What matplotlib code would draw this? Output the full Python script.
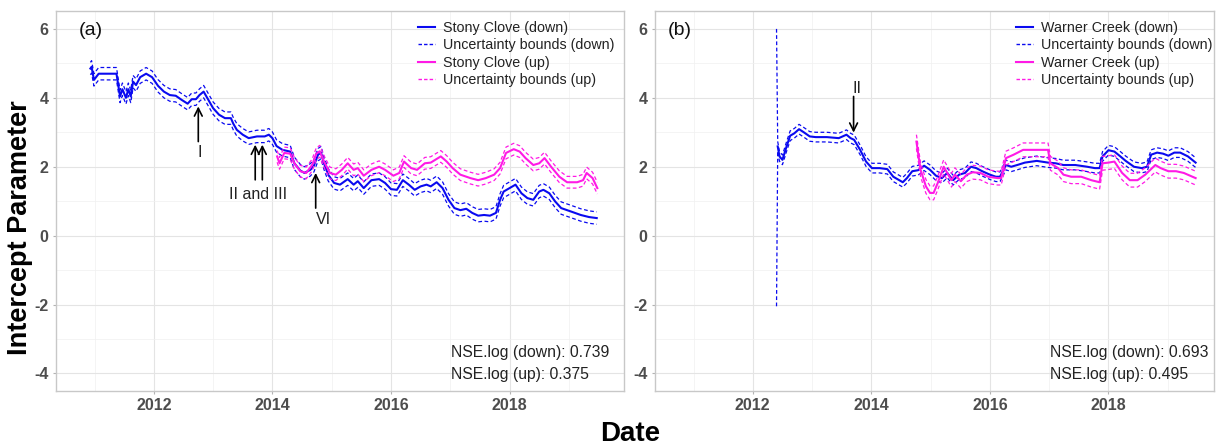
import matplotlib
matplotlib.use('Agg')
import matplotlib.pyplot as plt
from matplotlib.lines import Line2D
import numpy as np

plt.rcParams['font.family'] = ['Liberation Sans', 'DejaVu Sans']
plt.rcParams['axes.unicode_minus'] = False

# decimal years
sc_down_x = [2010.93, 2010.95, 2010.99, 2011.07, 2011.37, 2011.43, 2011.47, 2011.53, 2011.57, 2011.61,
             2011.65, 2011.7, 2011.77, 2011.87, 2011.97, 2012.07, 2012.17, 2012.27, 2012.37, 2012.47,
             2012.57, 2012.64, 2012.71, 2012.77, 2012.84, 2012.9, 2013.0, 2013.1, 2013.2, 2013.3,
             2013.34, 2013.4, 2013.5, 2013.6, 2013.74, 2013.87, 2013.94, 2014.0, 2014.07, 2014.17,
             2014.3, 2014.37, 2014.47, 2014.54, 2014.64, 2014.7, 2014.77, 2014.82, 2014.87, 2014.94,
             2015.04, 2015.14, 2015.27, 2015.37, 2015.44, 2015.54, 2015.67, 2015.8, 2015.9, 2016.0,
             2016.1, 2016.2, 2016.3, 2016.4, 2016.5, 2016.6, 2016.67, 2016.77, 2016.87, 2016.97,
             2017.07, 2017.17, 2017.27, 2017.37, 2017.47, 2017.57, 2017.67, 2017.77, 2017.84, 2017.9,
             2018.0, 2018.1, 2018.2, 2018.3, 2018.4, 2018.5, 2018.57, 2018.67, 2018.77, 2018.87,
             2018.97, 2019.07, 2019.2, 2019.34, 2019.47]
sc_down = [4.85, 4.9, 4.52, 4.7, 4.7, 4.04, 4.25, 4.0, 4.25, 4.04,
           4.47, 4.37, 4.6, 4.7, 4.6, 4.35, 4.18, 4.08, 4.06, 3.94,
           3.83, 3.96, 3.96, 4.08, 4.18, 4.0, 3.7, 3.51, 3.41, 3.41,
           3.25, 3.07, 2.93, 2.83, 2.88, 2.88, 2.93, 2.83, 2.6, 2.49,
           2.44, 2.1, 1.89, 1.82, 1.91, 2.03, 2.35, 2.41, 2.1, 1.77,
           1.53, 1.48, 1.64, 1.48, 1.58, 1.38, 1.61, 1.64, 1.53, 1.35,
           1.33, 1.61, 1.48, 1.33, 1.43, 1.48, 1.43, 1.55, 1.38, 1.04,
           0.8, 0.74, 0.78, 0.66, 0.58, 0.6, 0.58, 0.66, 1.04, 1.28,
           1.38, 1.48, 1.23, 1.09, 1.04, 1.28, 1.33, 1.23, 0.99, 0.8,
           0.74, 0.68, 0.6, 0.54, 0.51]
sc_down_hw = 0.18

sc_up_x = [2014.08, 2014.12, 2014.2, 2014.3, 2014.37, 2014.47, 2014.57, 2014.67, 2014.74, 2014.8,
           2014.87, 2014.97, 2015.07, 2015.17, 2015.27, 2015.37, 2015.44, 2015.54, 2015.67, 2015.8,
           2015.9, 2016.04, 2016.14, 2016.22, 2016.34, 2016.44, 2016.57, 2016.67, 2016.84, 2016.94,
           2017.04, 2017.17, 2017.34, 2017.47, 2017.6, 2017.74, 2017.84, 2017.94, 2018.07, 2018.17,
           2018.27, 2018.4, 2018.5, 2018.59, 2018.7, 2018.84, 2018.97, 2019.14, 2019.24, 2019.3,
           2019.4, 2019.48]
sc_up = [2.3, 2.1, 2.4, 2.38, 2.1, 1.87, 1.82, 2.05, 2.38, 2.45,
         2.15, 1.82, 1.77, 1.91, 2.1, 1.91, 1.96, 1.74, 1.91, 2.0,
         1.91, 1.74, 1.82, 2.15, 1.96, 1.91, 2.1, 2.12, 2.3, 2.15,
         1.96, 1.77, 1.67, 1.61, 1.67, 1.77, 1.96, 2.4, 2.51, 2.44,
         2.25, 2.05, 2.1, 2.25, 2.0, 1.71, 1.55, 1.55, 1.61, 1.82,
         1.67, 1.38]
sc_up_hw = 0.17

wc_down_x = [2012.42, 2012.45, 2012.5, 2012.57, 2012.63, 2012.7, 2012.78, 2012.86, 2012.96, 2013.06,
             2013.25, 2013.45, 2013.58, 2013.65, 2013.71, 2013.81, 2013.91, 2014.01, 2014.14, 2014.27,
             2014.37, 2014.47, 2014.53, 2014.6, 2014.69, 2014.79, 2014.89, 2014.99, 2015.09, 2015.19,
             2015.28, 2015.38, 2015.48, 2015.58, 2015.68, 2015.77, 2015.87, 2016.0, 2016.1, 2016.17,
             2016.27, 2016.36, 2016.46, 2016.59, 2016.79, 2016.98, 2017.11, 2017.24, 2017.44, 2017.64,
             2017.77, 2017.85, 2017.9, 2018.0, 2018.1, 2018.2, 2018.29, 2018.43, 2018.56, 2018.65,
             2018.72, 2018.82, 2018.92, 2019.01, 2019.11, 2019.21, 2019.34, 2019.47]
wc_down = [2.59, 2.3, 2.2, 2.59, 2.9, 2.97, 3.09, 3.0, 2.88, 2.86,
           2.86, 2.83, 2.93, 2.83, 2.78, 2.49, 2.15, 1.96, 1.96, 1.93,
           1.71, 1.61, 1.55, 1.67, 1.87, 1.9, 2.03, 1.91, 1.74, 1.67,
           1.82, 1.61, 1.77, 1.82, 2.0, 1.96, 1.87, 1.77, 1.71, 1.71,
           2.05, 2.0, 2.05, 2.12, 2.17, 2.12, 2.1, 2.05, 2.05, 2.0,
           1.96, 1.96, 2.3, 2.48, 2.44, 2.3, 2.17, 2.0, 1.96, 2.0,
           2.35, 2.41, 2.38, 2.32, 2.41, 2.41, 2.3, 2.12]
wc_down_hw = 0.14
# first bound point of Warner Creek (down): the long vertical dashed line
wc_bound_start_x = 2012.40
wc_bound_start_hi = 6.0
wc_bound_start_lo = -2.05

wc_up_x = [2014.76, 2014.83, 2014.92, 2014.99, 2015.05, 2015.12, 2015.22, 2015.28, 2015.35, 2015.41,
           2015.51, 2015.61, 2015.71, 2015.84, 2015.97, 2016.13, 2016.19, 2016.27, 2016.4, 2016.56,
           2016.98, 2017.02, 2017.15, 2017.24, 2017.37, 2017.54, 2017.71, 2017.85, 2017.9, 2018.0,
           2018.1, 2018.23, 2018.36, 2018.49, 2018.62, 2018.79, 2018.88, 2019.01, 2019.14, 2019.27,
           2019.47]
wc_up = [2.73, 1.91, 1.43, 1.24, 1.24, 1.53, 2.0, 1.82, 1.61, 1.77,
         1.58, 1.77, 1.84, 1.82, 1.71, 1.67, 1.67, 2.25, 2.35, 2.49,
         2.49, 2.1, 1.96, 1.77, 1.71, 1.71, 1.61, 1.55, 2.1, 2.12,
         2.15, 1.82, 1.61, 1.61, 1.77, 2.05, 1.96, 1.87, 1.87, 1.82,
         1.67]
wc_up_hw = 0.2

BLUE = '#0A0AF0'
MAGENTA = '#FF1AE6'
TXT = '#4D4D4D'


def style(ax, xmax):
    ax.set_xlim(2010.35, xmax)
    ax.set_ylim(-4.5, 6.52)
    ax.set_xticks([2012, 2014, 2016, 2018])
    ax.set_xticks([2011, 2013, 2015, 2017, 2019], minor=True)
    ax.set_yticks([-4, -2, 0, 2, 4, 6])
    ax.set_yticks([-3, -1, 1, 3, 5], minor=True)
    ax.grid(which='major', color='#E4E4E4', lw=0.8)
    ax.grid(which='minor', color='#F0F0F0', lw=0.5)
    ax.set_axisbelow(True)
    for s in ax.spines.values():
        s.set_color('#C8C8C8')
        s.set_linewidth(1.0)
    ax.tick_params(which='major', length=2.5, color='#B3B3B3', labelsize=11.5,
                   labelcolor=TXT, pad=3)
    ax.tick_params(which='minor', length=0)
    for lab in ax.get_xticklabels() + ax.get_yticklabels():
        lab.set_fontweight('bold')


def draw_series(ax, x, y, hw, color, start=None):
    x = np.array(x)
    y = np.array(y)
    bx, hi, lo = x, y + hw, y - hw
    if start is not None:
        bx = np.r_[start[0], x]
        hi = np.r_[start[1], hi]
        lo = np.r_[start[2], lo]
    ax.plot(bx, hi, color=color, lw=0.9, ls=(0, (3, 2)))
    ax.plot(bx, lo, color=color, lw=0.9, ls=(0, (3, 2)))
    ax.plot(x, y, color=color, lw=1.5)


def legend(ax, names, x0):
    handles = [Line2D([], [], color=BLUE, lw=1.5),
               Line2D([], [], color=BLUE, lw=1.0, ls=(0, (2.5, 1.5))),
               Line2D([], [], color=MAGENTA, lw=1.5),
               Line2D([], [], color=MAGENTA, lw=1.0, ls=(0, (2.5, 1.5)))]
    ax.legend(handles, names, loc='upper left', bbox_to_anchor=(x0, 0.973), frameon=False,
              fontsize=10.3, handlelength=1.2, handletextpad=0.55, labelspacing=0.22,
              borderpad=0, borderaxespad=0, labelcolor='#222222')


fig = plt.figure(figsize=(12.18, 4.47), dpi=100)
bot = (447 - 390.7) / 447
hgt = (390.7 - 11) / 447
ax_a = fig.add_axes([56 / 1218, bot, 568 / 1218, hgt])
ax_b = fig.add_axes([655 / 1218, bot, 559 / 1218, hgt])

# panel (a)
style(ax_a, 2019.93)
draw_series(ax_a, sc_down_x, sc_down, sc_down_hw, BLUE)
draw_series(ax_a, sc_up_x, sc_up, sc_up_hw, MAGENTA)
legend(ax_a, ['Stony Clove (down)', 'Uncertainty bounds (down)',
              'Stony Clove (up)', 'Uncertainty bounds (up)'], 0.637)
ax_a.text(2010.73, 5.95, '(a)', fontsize=14, va='center', ha='left', color='#111111')
arrow = dict(arrowstyle='->', color='black', lw=1.2, mutation_scale=14, shrinkA=0, shrinkB=0)
for xa, tip, tail in [(2012.75, 3.75, 2.73), (2013.71, 2.64, 1.62), (2013.83, 2.64, 1.62),
                      (2014.73, 1.82, 0.8)]:
    ax_a.annotate('', xy=(xa, tip), xytext=(xa, tail), arrowprops=arrow)
ax_a.text(2012.78, 2.4, 'I', fontsize=11.5, ha='center', va='center', color='#222222')
ax_a.text(2013.76, 1.19, 'II and III', fontsize=11.5, ha='center', va='center', color='#222222')
ax_a.text(2014.86, 0.46, 'VI', fontsize=11.5, ha='center', va='center', color='#222222')
ax_a.text(2017.02, -3.38, 'NSE.log (down): 0.739', fontsize=11.3, va='center', color='#222222')
ax_a.text(2017.02, -4.02, 'NSE.log (up): 0.375', fontsize=11.3, va='center', color='#222222')

# panel (b)
style(ax_b, 2019.78)
draw_series(ax_b, wc_down_x, wc_down, wc_down_hw, BLUE,
            start=(wc_bound_start_x, wc_bound_start_hi, wc_bound_start_lo))
draw_series(ax_b, wc_up_x, wc_up, wc_up_hw, MAGENTA)
legend(ax_b, ['Warner Creek (down)', 'Uncertainty bounds (down)',
              'Warner Creek (up)', 'Uncertainty bounds (up)'], 0.646)
ax_b.text(2010.57, 5.95, '(b)', fontsize=14, va='center', ha='left', color='#111111')
ax_b.annotate('', xy=(2013.7, 2.99), xytext=(2013.7, 4.04), arrowprops=arrow)
ax_b.text(2013.75, 4.28, 'II', fontsize=11.5, ha='center', va='center', color='#222222')
ax_b.text(2017.02, -3.38, 'NSE.log (down): 0.693', fontsize=11.3, va='center', color='#222222')
ax_b.text(2017.02, -4.02, 'NSE.log (up): 0.495', fontsize=11.3, va='center', color='#222222')

fig.text(20 / 1218, (447 - 228) / 447, 'Intercept Parameter', rotation=90, fontsize=19.5,
         fontweight='bold', ha='center', va='center', color='black')
fig.text(630 / 1218, (447 - 434) / 447, 'Date', fontsize=20, fontweight='bold',
         ha='center', va='center', color='black')

fig.savefig('out.png', dpi=100)
